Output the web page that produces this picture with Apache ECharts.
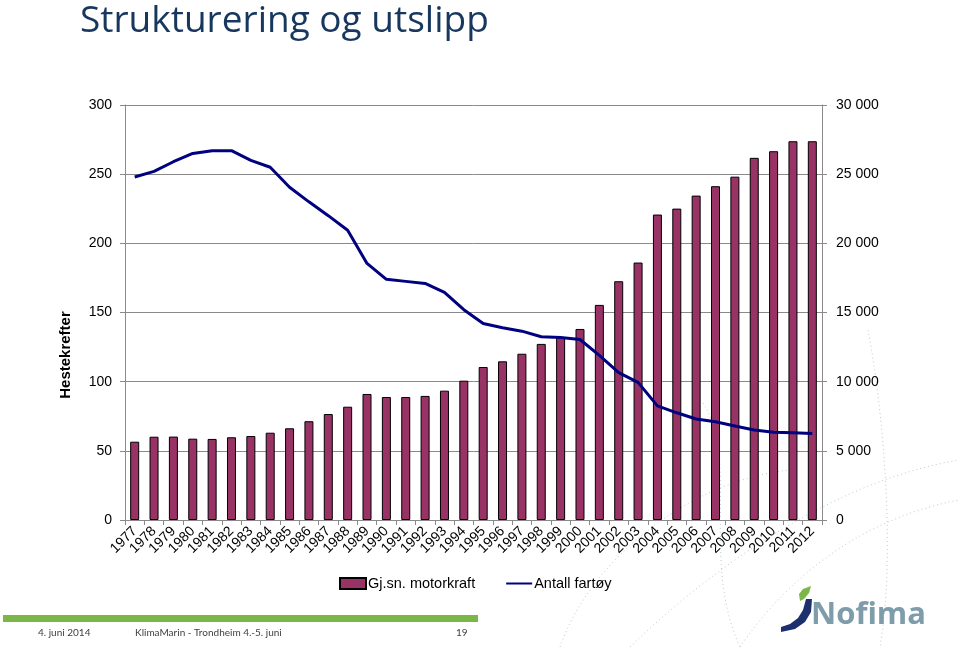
<!DOCTYPE html>
<html><head><meta charset="utf-8">
<script src="https://cdn.jsdelivr.net/npm/echarts@6/dist/echarts.min.js"></script>
<style>html,body{margin:0;padding:0;background:#fff}#c{width:959px;height:647px}</style>
</head><body><div id="c"></div>
<script>
const years = ['1977','1978','1979','1980','1981','1982','1983','1984','1985','1986','1987','1988','1989','1990','1991','1992','1993','1994','1995','1996','1997','1998','1999','2000','2001','2002','2003','2004','2005','2006','2007','2008','2009','2010','2011','2012'];
const motorkraft = [56.6,60.2,60.3,58.8,58.6,59.8,60.7,63.1,66.3,71.4,76.6,81.9,91.1,88.9,88.9,89.7,93.5,100.7,110.6,114.7,120.2,127.3,132.1,138.1,155.5,172.6,186.1,220.8,225.1,234.5,241.3,248.2,261.8,266.6,273.8,273.8];
const fartoy = [24800,25200,25900,26500,26700,26700,26000,25500,24050,23000,22000,20950,18550,17400,17250,17100,16450,15200,14200,13900,13650,13250,13200,13050,11900,10650,9950,8250,7750,7300,7100,6800,6500,6350,6300,6250];
const leftTicks = [0,50,100,150,200,250,300];
const rightTicks = [0,5000,10000,15000,20000,25000,30000];
const seriesNames = ['Gj.sn. motorkraft','Antall fartøy'];
const titleText = 'Strukturering og utslipp';
const yName = 'Hestekrefter';
const footer = ['4. juni 2014','KlimaMarin - Trondheim 4.-5. juni','19'];

const chart = echarts.init(document.getElementById('c'));
const fmt = v => String(v).replace(/\B(?=(\d{3})+$)/g,' ');
const dotted = {stroke:'#b9c9cc', lineWidth:1, lineDash:[1,3], fill:null};
const footFont = '10px Lato, "Open Sans", sans-serif';
chart.setOption({
  animation:false,
  textStyle:{fontFamily:'"Liberation Sans", Arial, sans-serif'},
  grid:{left:125,right:137,top:105,bottom:127,containLabel:false},
  legend:{
    data:[
      {name:seriesNames[0], icon:'rect'},
      {name:seriesNames[1], itemStyle:{opacity:0}}
    ],
    left:334, top:571, itemWidth:26, itemHeight:11, itemGap:30,
    textStyle:{fontSize:14.5,color:'#000',padding:[0,0,0,-3]}
  },
  xAxis:{
    type:'category', data:years, boundaryGap:true,
    axisLine:{lineStyle:{color:'#8a8a8a'}},
    axisTick:{show:true, interval:0, length:5, lineStyle:{color:'#8a8a8a'}},
    axisLabel:{interval:0, rotate:45, fontSize:14, color:'#000', margin:9}
  },
  yAxis:[{
    type:'value', min:leftTicks[0], max:leftTicks[leftTicks.length-1], interval:50,
    axisLine:{show:true,lineStyle:{color:'#8a8a8a'}},
    axisTick:{show:true,length:5,lineStyle:{color:'#8a8a8a'}},
    splitLine:{lineStyle:{color:'#8a8a8a',width:1}},
    axisLabel:{fontSize:14,color:'#000',margin:13}
  },{
    type:'value', min:rightTicks[0], max:rightTicks[rightTicks.length-1], interval:5000,
    axisLine:{show:true,lineStyle:{color:'#8a8a8a'}},
    axisTick:{show:true,length:5,lineStyle:{color:'#8a8a8a'}},
    splitLine:{show:false},
    axisLabel:{fontSize:14,color:'#000',margin:14,formatter:fmt}
  }],
  series:[{
    name:seriesNames[0], type:'bar', data:motorkraft, barWidth:9, yAxisIndex:0,
    itemStyle:{color:'#993366', borderColor:'#000', borderWidth:1}
  },{
    name:seriesNames[1], type:'line', data:fartoy, yAxisIndex:1,
    showSymbol:false, symbol:'none', lineStyle:{color:'#000080', width:3}, itemStyle:{color:'#000080'}
  }],
  graphic:[
    {type:'text', x:80, y:21, z:10, style:{text:titleText, fill:'#17375e', font:'37px "Open Sans", sans-serif', verticalAlign:'middle'}},
    {type:'text', x:66, y:355, rotation:Math.PI/2, z:10, style:{text:yName, fill:'#000', font:'bold 15px "Liberation Sans", Arial', align:'center', verticalAlign:'middle'}},
    {type:'rect', shape:{x:3,y:615,width:475,height:7}, style:{fill:'#7ab648'}, z:0},
    {type:'text', x:38, y:633, style:{text:footer[0], fill:'#404040', font:footFont, verticalAlign:'middle'}},
    {type:'text', x:135, y:633, style:{text:footer[1], fill:'#404040', font:footFont, verticalAlign:'middle'}},
    {type:'text', x:456, y:633, style:{text:footer[2], fill:'#404040', font:footFont, verticalAlign:'middle'}},
    {type:'bezierCurve', z:-1, shape:{x1:868,y1:330,x2:880,y2:647,cpx1:885,cpy1:420,cpx2:895,cpy2:560}, style:dotted},
    {type:'bezierCurve', z:-1, shape:{x1:703,y1:403,x2:740,y2:647,cpx1:740,cpy1:460,cpx2:700,cpy2:560}, style:dotted},
    {type:'bezierCurve', z:-1, shape:{x1:630,y1:647,x2:959,y2:460,cpx1:720,cpy1:560,cpx2:840,cpy2:480}, style:dotted},
    {type:'bezierCurve', z:-1, shape:{x1:740,y1:647,x2:959,y2:500,cpx1:800,cpy1:560,cpx2:880,cpy2:515}, style:dotted},
    {type:'bezierCurve', z:-1, shape:{x1:560,y1:647,x2:790,y2:470,cpx1:590,cpy1:560,cpx2:690,cpy2:480}, style:dotted},
    {type:'polygon', z:10, shape:{points:[[781,627],[790,624],[798,618],[803,610],[806,599],[812,599],[811,612],[805,622],[795,629],[781,632]]}, style:{fill:'#1e2f6e'}},
    {type:'polygon', z:10, shape:{points:[[800,601],[799,594],[803,589],[811,586],[809,593],[804,599]]}, style:{fill:'#7ab648'}},
    {type:'text', x:811, y:615, z:10, style:{text:'Nofima', fill:'#7f9cab', font:'bold 31px "Open Sans", sans-serif', verticalAlign:'middle'}}
  ]
});
</script></body></html>
